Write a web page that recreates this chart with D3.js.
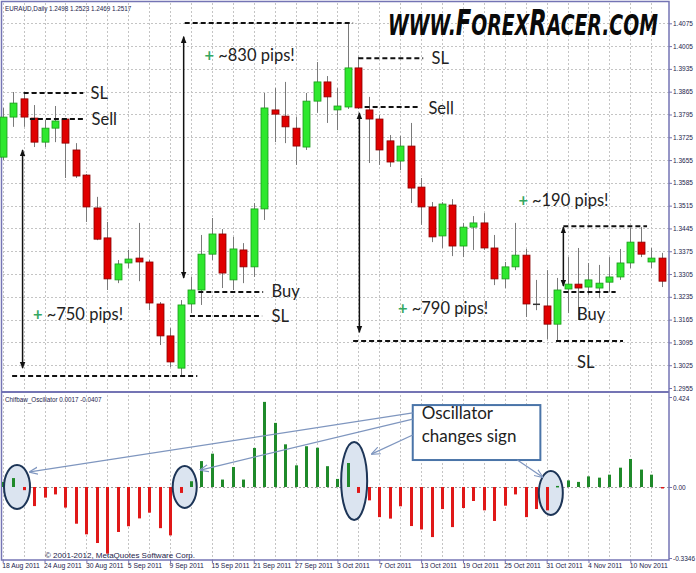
<!DOCTYPE html>
<html><head><meta charset="utf-8">
<script src="https://cdn.jsdelivr.net/npm/d3@7/dist/d3.min.js"></script>
<style>html,body{margin:0;padding:0;background:#fff;}svg{display:block;}</style>
</head><body>
<svg id="c" width="696" height="573"></svg>
<script>
// ---------- DATA ----------
const tickLabels = ["18 Aug 2011","24 Aug 2011","30 Aug 2011","5 Sep 2011","9 Sep 2011","15 Sep 2011","21 Sep 2011","27 Sep 2011","3 Oct 2011","7 Oct 2011","13 Oct 2011","19 Oct 2011","25 Oct 2011","31 Oct 2011","4 Nov 2011","10 Nov 2011"];
const priceTicks = [1.4075,1.4005,1.3935,1.3865,1.3795,1.3725,1.3655,1.3585,1.3515,1.3445,1.3375,1.3305,1.3235,1.3165,1.3095,1.3025,1.2955];
const oscTicks = [0.424, 0.00, -0.3346];
const opens  = [1.3664,1.3787,1.3843,1.3784,1.3710,1.3753,1.3781,1.3686,1.3609,1.3508,1.3416,1.3287,1.3339,1.3354,1.3342,1.3213,1.3115,1.3016,1.3213,1.3256,1.3366,1.3428,1.3287,1.3379,1.3327,1.3505,1.3809,1.3790,1.3753,1.3695,1.3836,1.3895,1.3809,1.3818,1.3938,1.3809,1.3781,1.3714,1.3652,1.3698,1.3572,1.3511,1.3422,1.3517,1.3391,1.3449,1.3462,1.3385,1.3290,1.3327,1.3363,1.3213,1.3207,1.3151,1.3259,1.3274,1.3265,1.3262,1.3280,1.3296,1.3339,1.3403,1.3342,1.3354];
const highs  = [1.3815,1.3864,1.3861,1.3824,1.3778,1.3821,1.3783,1.3707,1.3612,1.3542,1.3465,1.3348,1.3379,1.3462,1.3348,1.3219,1.3139,1.3225,1.3296,1.3425,1.3477,1.3443,1.3419,1.3400,1.3523,1.3861,1.3876,1.3895,1.3787,1.3861,1.3956,1.3913,1.3876,1.4076,1.3972,1.3849,1.3793,1.3732,1.3729,1.3769,1.3600,1.3526,1.3526,1.3535,1.3462,1.3483,1.3492,1.3425,1.3342,1.3462,1.3382,1.3287,1.3317,1.3293,1.3357,1.3385,1.3339,1.3333,1.3357,1.3382,1.3446,1.3449,1.3385,1.3370];
const lows   = [1.3655,1.3757,1.3757,1.3695,1.3695,1.3710,1.3600,1.3600,1.3465,1.3409,1.3256,1.3277,1.3323,1.3283,1.3194,1.3087,1.3019,1.2989,1.3185,1.3210,1.3348,1.3262,1.3256,1.3277,1.3296,1.3471,1.3710,1.3707,1.3640,1.3686,1.3800,1.3769,1.3747,1.3812,1.3812,1.3646,1.3640,1.3634,1.3624,1.3523,1.3456,1.3403,1.3385,1.3360,1.3357,1.3379,1.3379,1.3271,1.3262,1.3317,1.3173,1.3194,1.3105,1.3102,1.3185,1.3164,1.3241,1.3231,1.3250,1.3287,1.3323,1.3357,1.3323,1.3265];
const closes = [1.3787,1.3830,1.3787,1.3710,1.3753,1.3775,1.3707,1.3606,1.3511,1.3412,1.3290,1.3336,1.3351,1.3342,1.3216,1.3115,1.3035,1.3210,1.3256,1.3366,1.3428,1.3308,1.3382,1.3327,1.3505,1.3815,1.3796,1.3757,1.3698,1.3836,1.3895,1.3849,1.3821,1.3938,1.3815,1.3781,1.3686,1.3649,1.3698,1.3569,1.3511,1.3419,1.3520,1.3391,1.3449,1.3462,1.3385,1.3290,1.3327,1.3363,1.3213,1.3212,1.3151,1.3256,1.3274,1.3262,1.3287,1.3277,1.3296,1.3339,1.3403,1.3366,1.3354,1.3283];
const oscValues = [0.024,0.042,-0.015,-0.090,-0.050,-0.035,-0.097,-0.173,-0.223,-0.264,-0.314,-0.212,-0.185,-0.148,-0.121,-0.194,-0.228,-0.028,0.027,0.122,0.157,0.035,0.094,0.035,0.184,0.401,0.302,0.201,0.102,0.192,0.185,0.098,0.038,0.113,-0.028,-0.063,-0.142,-0.149,-0.091,-0.184,-0.200,-0.236,-0.104,-0.189,-0.099,-0.066,-0.110,-0.160,-0.088,-0.035,-0.142,-0.104,-0.110,0.005,0.031,0.024,0.050,0.044,0.058,0.091,0.132,0.082,0.058,-0.005];

// annotations in data coordinates (bar index, price)
const levelLines = [
  {i0:2.0, i1:7.7, p:1.3861}, {i0:2.6, i1:7.7, p:1.3781},
  {i0:0.9, i1:18.6, p:1.2992}, {i0:17.4, i1:33.5, p:1.4076},
  {i0:18.7, i1:24.9, p:1.3250}, {i0:17.9, i1:24.8, p:1.3176},
  {i0:34.0, i1:40.2, p:1.3968}, {i0:34.6, i1:39.7, p:1.3818},
  {i0:33.5, i1:51.8, p:1.3099}, {i0:53.6, i1:61.6, p:1.3452},
  {i0:53.6, i1:58.6, p:1.3250}, {i0:52.9, i1:59.3, p:1.3099}
];
const moveArrows = [
  {i:1.9, p0:1.3686, p1:1.3016}, {i:17.3, p0:1.4034, p1:1.3293},
  {i:34.1, p0:1.3800, p1:1.3126}, {i:53.6, p0:1.3449, p1:1.3268}
];
const labels = [
  {i:8.4, p:1.3861, t:"SL"}, {i:8.5, p:1.3781, t:"Sell"},
  {i:25.7, p:1.3254, t:"Buy"}, {i:25.7, p:1.3176, t:"SL"},
  {i:41.0, p:1.3968, t:"SL"}, {i:40.7, p:1.3815, t:"Sell"},
  {i:54.9, p:1.3182, t:"Buy"}, {i:54.9, p:1.3036, t:"SL"}
];
const pipLabels = [
  {i:2.9, p:1.3182, t:"~750 pips!"}, {i:19.3, p:1.3978, t:"~830 pips!"},
  {i:37.8, p:1.3201, t:"~790 pips!"}, {i:49.3, p:1.3532, t:"~190 pips!"}
];
const ellipses = [
  {i:1.37, v:0.0, rx:13, ry:22}, {i:17.4, v:0.0, rx:12, ry:21},
  {i:33.6, v:0.028, rx:13, ry:39}, {i:52.4, v:-0.028, rx:12, ry:22}
];

// ---------- SCALES ----------
const svg = d3.select("#c");
const X = d3.scaleLinear().domain([0, 63]).range([2.7, 661.7]);
const Y = d3.scaleLinear().domain([1.2955, 1.4075]).range([388, 23.3]);
const YO = d3.scaleLinear().domain([-0.3346, 0.424]).range([558, 397]);
const frame = "#7474b4", gridC = "#c4c4c4";
const annFont = "Lato, 'Open Sans', sans-serif";

svg.append("rect").attr("width",696).attr("height",573).attr("fill","#fff");

// grid
const gridIdx = d3.range(0, 64, 2);
const g = svg.append("g").attr("stroke", gridC).attr("stroke-dasharray","2,2").attr("stroke-width",1);
g.selectAll(".hg").data(priceTicks.slice(0,-1)).join("line")
  .attr("x1",3).attr("x2",669).attr("y1",d=>Math.round(Y(d))+0.5).attr("y2",d=>Math.round(Y(d))+0.5);
g.selectAll(".vg").data(gridIdx).join("line")
  .attr("x1",d=>Math.round(X(d))+0.5).attr("x2",d=>Math.round(X(d))+0.5).attr("y1",3).attr("y2",560);
g.append("line").attr("x1",3).attr("x2",669).attr("y1",Math.round(YO(0))+0.5).attr("y2",Math.round(YO(0))+0.5).attr("stroke","#a0a0a0");

// frame
svg.append("rect").attr("x",1.5).attr("y",1.5).attr("width",667.5).attr("height",558.5).attr("fill","none").attr("stroke",frame).attr("stroke-width",1.5);
svg.append("line").attr("x1",1.5).attr("x2",669).attr("y1",392).attr("y2",392).attr("stroke",frame).attr("stroke-width",2);

// axes
const ax = svg.append("g").attr("transform","translate(669,0)")
  .call(d3.axisRight(Y).tickValues(priceTicks).tickSize(3).tickFormat(d3.format(".4f")));
ax.select(".domain").remove();
ax.selectAll("line").attr("stroke",frame);
ax.selectAll("text").attr("font-family","'Liberation Sans', Arial, sans-serif").attr("font-size",6.5).attr("fill","#1c1c4c").attr("x",4);
const axo = svg.append("g").attr("transform","translate(669,0)")
  .call(d3.axisRight(YO).tickValues(oscTicks).tickSize(3).tickFormat(d=> d===0 ? "0.00" : String(d)));
axo.select(".domain").remove();
axo.selectAll("line").attr("stroke",frame);
axo.selectAll("text").attr("font-family","'Liberation Sans', Arial, sans-serif").attr("font-size",6.5).attr("fill","#1c1c4c").attr("x",4);
axo.selectAll(".tick").filter(d=>d===0.424).select("text").attr("dy","0.6em");

const tickIdx = tickLabels.map((d,k)=>k*4);
const axb = svg.append("g").attr("transform","translate(0,560)")
  .call(d3.axisBottom(X).tickValues(tickIdx).tickSize(3).tickFormat((d,k)=>tickLabels[k]));
axb.select(".domain").remove();
axb.selectAll("line").attr("stroke",frame);
axb.selectAll("text").attr("font-family","'Liberation Sans', Arial, sans-serif").attr("font-size",6.8).attr("fill","#1c1c4c")
  .attr("text-anchor","start").attr("x",-1).attr("y",3.5).attr("dy","0.71em");

// header texts
svg.append("text").attr("x",5).attr("y",11).attr("font-family","'Liberation Sans', Arial, sans-serif").attr("font-size",6.3).attr("fill","#1c1c4c").text("EURAUD,Daily  1.2498 1.2523 1.2469 1.2517");
svg.append("text").attr("x",5).attr("y",402).attr("font-family","'Liberation Sans', Arial, sans-serif").attr("font-size",6.3).attr("fill","#1c1c4c").text("Chifbaw_Oscillator 0.0017 -0.0407");
svg.append("text").attr("x",45).attr("y",558).attr("font-family","'Liberation Sans', Arial, sans-serif").attr("font-size",8).attr("fill","#1c1c4c").text("© 2001-2012, MetaQuotes Software Corp.");

// candles
const candles = opens.map((o,k)=>({k, o, h:highs[k], l:lows[k], c:closes[k]}));
const cg = svg.append("g");
cg.selectAll(".wick").data(candles).join("line")
  .attr("x1",d=>Math.round(X(d.k))+0.5).attr("x2",d=>Math.round(X(d.k))+0.5)
  .attr("y1",d=>Y(d.h)).attr("y2",d=>Y(d.l)).attr("stroke","#7a7a7a").attr("stroke-width",1);
cg.selectAll(".body").data(candles.filter(d=>Math.abs(d.o-d.c)>=0.0002)).join("rect")
  .attr("x",d=>Math.round(X(d.k))-3).attr("width",7)
  .attr("y",d=>Y(Math.max(d.o,d.c))).attr("height",d=>Math.max(1.5,Math.abs(Y(d.o)-Y(d.c))))
  .attr("fill",d=>d.c>d.o?"#2ee82e":"#e00000").attr("stroke",d=>d.c>d.o?"#1a9a1a":"#8a0000").attr("stroke-width",0.8);
cg.selectAll(".doji").data(candles.filter(d=>Math.abs(d.o-d.c)<0.0002)).join("line")
  .attr("x1",d=>Math.round(X(d.k))-3).attr("x2",d=>Math.round(X(d.k))+4)
  .attr("y1",d=>Y(d.c)).attr("y2",d=>Y(d.c)).attr("stroke","#333").attr("stroke-width",1.5);

// ellipse fills (behind bars)
svg.append("g").selectAll("ellipse").data(ellipses).join("ellipse")
  .attr("cx",d=>X(d.i)).attr("cy",d=>YO(d.v)).attr("rx",d=>d.rx).attr("ry",d=>d.ry)
  .attr("fill","#dbe4f0");

// oscillator bars
svg.append("g").selectAll("rect").data(oscValues).join("rect")
  .attr("x",(d,k)=>Math.round(X(k))-1).attr("width",3)
  .attr("y",d=>Math.min(YO(d),YO(0))).attr("height",d=>Math.max(1.5,Math.abs(YO(d)-YO(0))))
  .attr("fill",d=>d>=0?"#1f8a2a":"#e01818");

// ellipse outlines
svg.append("g").selectAll("ellipse").data(ellipses).join("ellipse")
  .attr("cx",d=>X(d.i)).attr("cy",d=>YO(d.v)).attr("rx",d=>d.rx).attr("ry",d=>d.ry)
  .attr("fill","none").attr("stroke","#1d3557").attr("stroke-width",2);

// markers
const defs = svg.append("defs");
defs.append("marker").attr("id","ah").attr("viewBox","0 0 10 10").attr("refX",9).attr("refY",5)
  .attr("markerWidth",7).attr("markerHeight",7).attr("markerUnits","userSpaceOnUse").attr("orient","auto-start-reverse")
  .append("path").attr("d","M0,1 L10,5 L0,9 Z").attr("fill","#111");
defs.append("marker").attr("id","bh").attr("viewBox","0 0 10 10").attr("refX",9).attr("refY",5)
  .attr("markerWidth",9).attr("markerHeight",9).attr("markerUnits","userSpaceOnUse").attr("orient","auto")
  .append("path").attr("d","M0,1 L10,5 L0,9").attr("fill","none").attr("stroke","#7f96bf").attr("stroke-width",1.3);

// annotations: dashed level lines
svg.append("g").selectAll("line").data(levelLines).join("line")
  .attr("x1",d=>X(d.i0)).attr("x2",d=>X(d.i1)).attr("y1",d=>Y(d.p)).attr("y2",d=>Y(d.p))
  .attr("stroke","#111").attr("stroke-width",2).attr("stroke-dasharray","5,3");
// move arrows
svg.append("g").selectAll("line").data(moveArrows).join("line")
  .attr("x1",d=>X(d.i)).attr("x2",d=>X(d.i)).attr("y1",d=>Y(d.p0)).attr("y2",d=>Y(d.p1))
  .attr("stroke","#111").attr("stroke-width",1.5).attr("marker-start","url(#ah)").attr("marker-end","url(#ah)");
// labels
svg.append("g").selectAll("text").data(labels).join("text")
  .attr("x",d=>X(d.i)).attr("y",d=>Y(d.p)).attr("dominant-baseline","central")
  .attr("font-family",annFont).attr("font-size",16.5).attr("fill","#222").text(d=>d.t);
const pl = svg.append("g").selectAll("text").data(pipLabels).join("text")
  .attr("x",d=>X(d.i)).attr("y",d=>Y(d.p)).attr("dominant-baseline","central")
  .attr("font-family",annFont).attr("font-size",16.5).attr("fill","#222");
pl.append("tspan").attr("fill","#35a862").attr("font-weight","bold").text("+ ");
pl.append("tspan").text(d=>d.t);

// callout box
const box = {i0:39.2, i1:51.4, v0:0.386, v1:0.127};
svg.append("rect").attr("x",X(box.i0)).attr("y",YO(box.v0)).attr("width",X(box.i1)-X(box.i0)).attr("height",YO(box.v1)-YO(box.v0))
  .attr("fill","#fff").attr("stroke","#4a74a8").attr("stroke-width",2);
const bt = svg.append("text").attr("font-family",annFont).attr("font-size",17).attr("fill","#222");
bt.append("tspan").attr("x",X(box.i0)+9).attr("y",YO(0.32)).text("Oscillator");
bt.append("tspan").attr("x",X(box.i0)+9).attr("y",YO(0.212)).text("changes sign");
// callout pointers
const pointers = [
  {a:[39.2,0.349], b:[2.6,0.071]}, {a:[39.2,0.320], b:[18.9,0.080]},
  {a:[39.2,0.245], b:[35.3,0.156]}, {a:[49.2,0.127], b:[51.6,0.047]}
];
svg.append("g").selectAll("line").data(pointers).join("line")
  .attr("x1",d=>X(d.a[0])).attr("y1",d=>YO(d.a[1])).attr("x2",d=>X(d.b[0])).attr("y2",d=>YO(d.b[1]))
  .attr("stroke","#7f96bf").attr("stroke-width",1.3).attr("marker-end","url(#bh)");

// logo: natural-size text compressed horizontally with a transform
const lg = svg.append("g");
const logo = lg.append("text").attr("x",0).attr("y",0).attr("font-family","'DejaVu Sans', sans-serif")
  .attr("font-weight","bold").attr("font-style","italic").attr("font-size",29).attr("fill","#0a0a0a");
[["WWW.",29],["F",35],["OREX",29],["R",35],["ACER.COM",29]].forEach(([t,s])=>logo.append("tspan").attr("font-size",s).text(t));
const W = logo.node().getComputedTextLength();
lg.attr("transform",`translate(388,35) scale(${270/W},1)`);
</script>
</body></html>
